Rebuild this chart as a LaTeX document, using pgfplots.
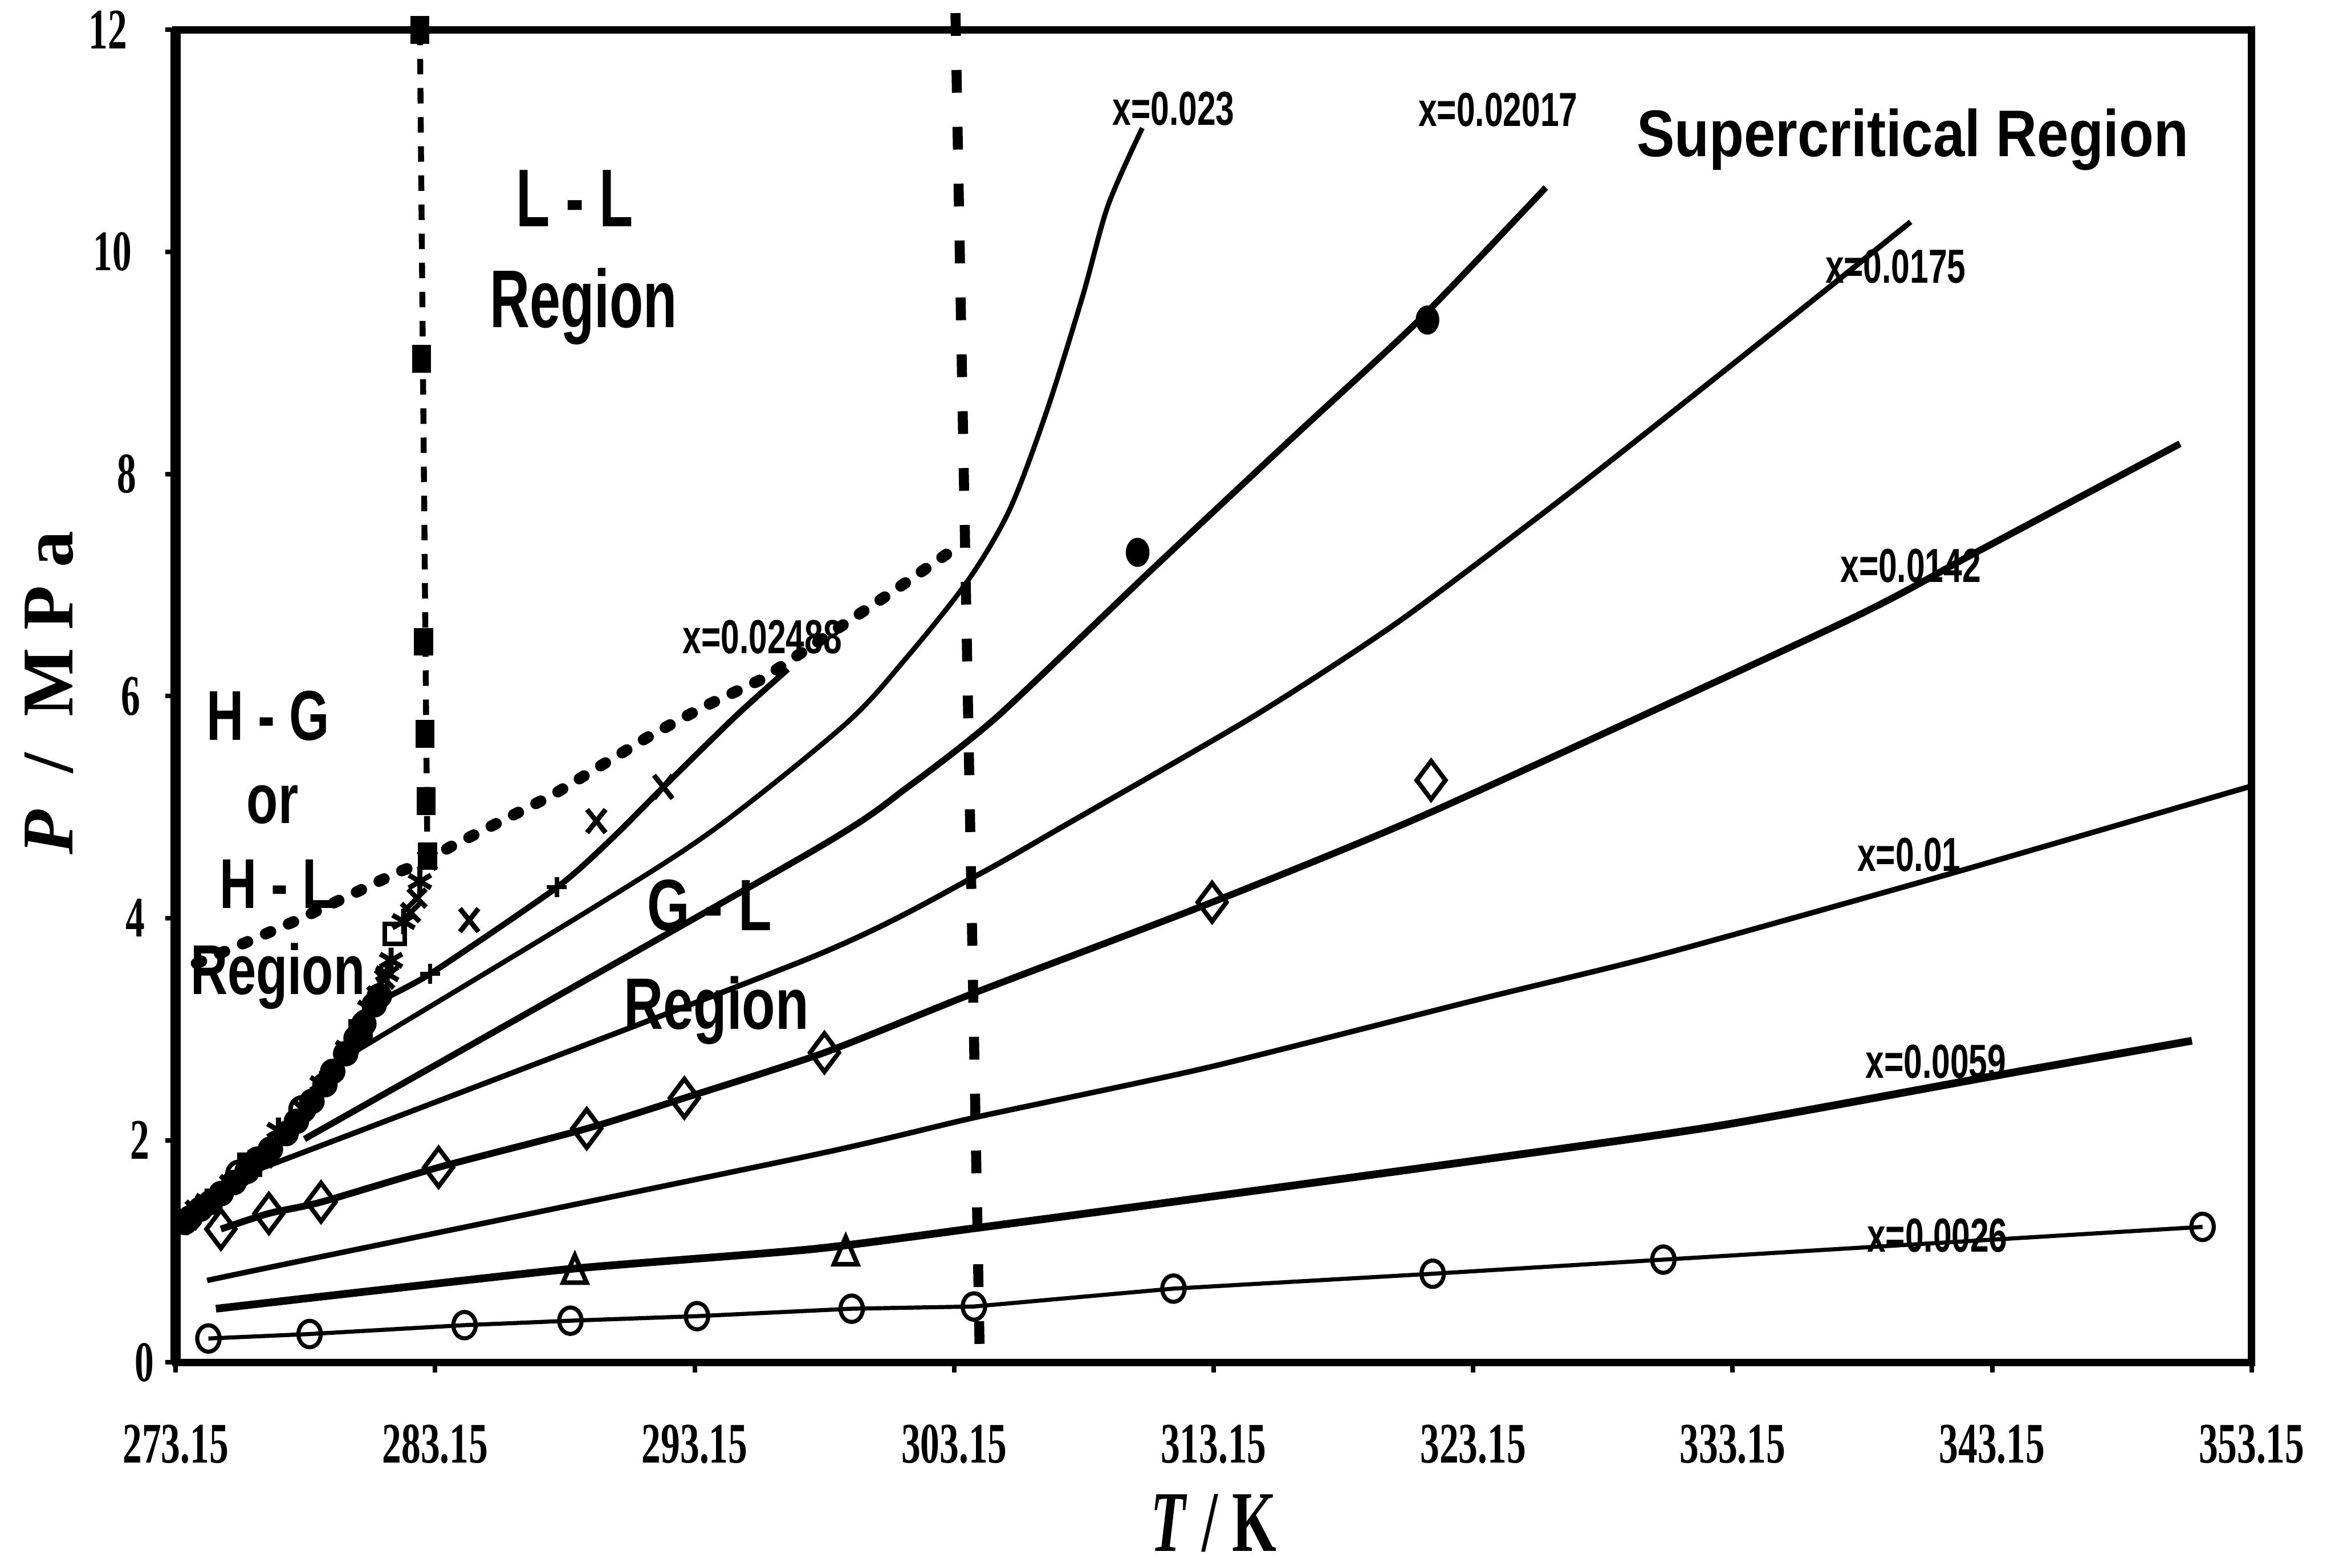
\documentclass[border=0pt]{standalone}
\usepackage{fontspec}
\setmainfont{Liberation Serif}
\setsansfont{Liberation Sans}
\usepackage{graphicx}
\usepackage{pgfplots}
\pgfplotsset{compat=1.18}

\newcommand{\tl}[1]{\scalebox{0.67}[1]{\fontsize{12.6pt}{13pt}\selectfont\bfseries #1}}
\newcommand{\lbl}[1]{\scalebox{0.7}[1]{\sffamily\fontsize{10.5pt}{11pt}\selectfont\bfseries #1}}
\newcommand{\rg}[3]{\scalebox{#1}[1]{\sffamily\fontsize{#2}{#2}\selectfont\bfseries #3}}

\begin{document}
\begin{tikzpicture}
\begin{axis}[
  at={(0,0)}, anchor=south west, scale only axis,
  width=16.031cm, height=10.2925cm,
  xmin=273.15, xmax=353.15, ymin=0, ymax=12,
  xtick={273.15,283.15,293.15,303.15,313.15,323.15,333.15,343.15,353.15},
  ytick={0,2,4,6,8,10,12},
  xticklabel=\empty, yticklabel=\empty,
  tick align=outside, xtick pos=bottom, ytick pos=left,
  major tick length=0.08cm,
  every tick/.style={black, line width=1pt},
  axis line style={black, line width=1.6pt},
  clip=false,
]

% ---------- isopleth lines ----------
% x = 0.0026 (circles)
\addplot[black, line width=0.9pt, mark=o, mark size=2.9pt, mark options={xscale=0.85, line width=0.9pt}]
 coordinates {(274.41,0.215)(278.31,0.255)(284.28,0.335)(288.36,0.375)(293.24,0.416)(299.20,0.483)(303.91,0.503)(311.60,0.664)(321.59,0.798)(330.48,0.925)(351.26,1.220)};

% x = 0.0059
\addplot[black, line width=1.7pt, no marks, smooth, tension=0.4]
 coordinates {(274.70,0.483)(280.73,0.644)(288.53,0.845)(297.65,1.019)(303.91,1.207)(310.80,1.421)(323.42,1.823)(332.66,2.132)(343.74,2.601)(350.85,2.896)};
\addplot[black, only marks, mark=triangle, mark size=4pt, mark options={xscale=0.75, line width=1pt}]
 coordinates {(288.53,0.80)(298.97,0.965)};

% x = 0.01
\addplot[black, line width=1.2pt, no marks, smooth, tension=0.4]
 coordinates {(274.36,0.737)(276.82,0.858)(297.65,1.864)(304.08,2.212)(312.92,2.655)(323.42,3.272)(330.42,3.674)(341.50,4.398)(353.15,5.19)};

% x = 0.0142 (diamonds)
\addplot[black, line width=1.5pt, no marks, smooth, tension=0.4]
 coordinates {(274.89,1.20)(276.74,1.341)(278.75,1.443)(283.28,1.756)(288.99,2.105)(292.75,2.380)(298.15,2.789)(303.91,3.325)(313.09,4.143)(321.59,4.961)(337.54,6.677)(342.42,7.280)(350.39,8.272)};
\addplot[black, only marks, mark=diamond, mark size=4.2pt, mark options={line width=1pt, fill=white}]
 coordinates {(274.89,1.20)(276.74,1.341)(278.75,1.443)(283.28,1.756)(288.99,2.105)(292.75,2.380)(298.15,2.789)(313.09,4.143)(321.53,5.242)};

% x = 0.0175
\addplot[black, line width=1.2pt, no marks, smooth, tension=0.4]
 coordinates {(276.25,1.730)(297.65,3.647)(303.91,4.371)(307.35,4.827)(314.70,5.819)(320.32,6.677)(327.09,7.870)(335.07,9.345)(340.01,10.270)};

% x = 0.02017 (filled circles)
\addplot[black, line width=1.4pt, no marks, smooth, tension=0.4]
 coordinates {(278.11,2.011)(297.65,4.599)(301.33,5.175)(304.83,5.819)(310.74,7.133)(316.13,8.313)(321.07,9.386)(325.95,10.579)};
\addplot[black, only marks, mark=*, mark size=3pt, mark options={xscale=0.8}]
 coordinates {(310.22,7.294)(321.39,9.386)};

% x = 0.023
\addplot[black, line width=1.1pt, no marks, smooth, tension=0.5]
 coordinates {(280.09,2.802)(289.30,4.103)(293.98,4.813)(298.97,5.75)(301.33,6.35)(303.68,7.04)(305.29,7.68)(306.72,8.568)(308.10,9.600)(309.08,10.418)(310.40,11.115)};

% x = 0.02488
\addplot[black, line width=1.3pt, no marks, smooth, tension=0.4]
 coordinates {(280.90,3.245)(282.96,3.499)(287.84,4.277)(289.91,4.706)(291.92,5.175)(294.73,5.819)(296.74,6.241)};
\addplot[black, only marks, mark=x, mark size=3.6pt, mark options={xscale=0.8, line width=1.1pt}]
 coordinates {(284.46,3.982)(289.36,4.874)(291.94,5.182)};
\addplot[black, only marks, mark=+, mark size=2.2pt, mark options={line width=0.9pt}]
 coordinates {(282.96,3.499)(287.84,4.277)};

% ---------- phase boundaries ----------
\addplot[black, line width=2.5pt, line cap=round, dash pattern=on 1.2pt off 4.3pt, no marks]
 coordinates {(273.95,3.593)(275.90,3.786)(277.86,3.985)(279.83,4.203)(281.72,4.414)(282.85,4.518)(283.71,4.639)(287.67,5.108)(291.49,5.651)(293.52,5.906)(295.76,6.154)(300.81,6.945)(303.45,7.374)};

\addplot[black, line width=1.3pt, dash pattern=on 3.4pt off 3pt, no marks]
 coordinates {(282.56,12)(282.85,4.52)};
\addplot[black, only marks, mark=square*, mark size=1.9pt, mark options={yscale=1.5}]
 coordinates {(282.56,12)(282.62,9.037)(282.70,6.489)(282.76,5.658)(282.80,5.055)(282.85,4.559)};

\addplot[black, line width=2.2pt, dash pattern=on 5pt off 7.5pt, no marks]
 coordinates {(303.20,12.15)(304.14,0)};

% ---------- hydrate equilibrium data ----------
\addplot[black, only marks, mark=*, mark size=2.6pt]
 coordinates {(273.50,1.26)(273.70,1.30)(274.10,1.38)(274.50,1.44)(274.90,1.52)(275.40,1.62)(275.90,1.72)(276.30,1.83)(276.80,1.92)(277.40,2.06)(277.80,2.17)(278.40,2.35)(278.90,2.50)(279.20,2.62)(279.70,2.78)(280.10,2.92)(280.40,3.05)(280.80,3.22)(281.00,3.30)};
\addplot[black, only marks, mark=asterisk, mark size=2.8pt, mark options={line width=1.1pt}]
 coordinates {(273.55,1.26)(274.36,1.45)(276.02,1.80)(277.11,2.09)(278.77,2.51)(279.75,2.83)(280.61,3.19)(281.30,3.50)(281.45,3.62)(281.93,3.97)(282.56,4.33)};
\addplot[black, only marks, mark=x, mark size=2.8pt, mark options={line width=1.1pt}]
 coordinates {(273.90,1.37)(275.22,1.60)(276.54,1.84)(278.03,2.28)(280.21,2.98)(280.90,3.30)(281.20,3.45)(282.20,4.05)(282.45,4.18)(282.85,4.52)};
\addplot[black, only marks, mark=square, mark size=2.2pt, mark options={line width=1pt, fill=white}]
 coordinates {(276.00,1.78)(280.27,2.98)(281.59,3.86)};
\addplot[black, only marks, mark=o, mark size=2.6pt, mark options={line width=1pt, fill=white}]
 coordinates {(278.03,2.28)(275.60,1.70)};

% ---------- tick labels ----------
\foreach \t in {273.15,283.15,293.15,303.15,313.15,323.15,333.15,343.15,353.15}{
  \edef\tmp{\noexpand\node[inner sep=0pt, anchor=center] at (axis cs:\t,-0.737) {\noexpand\tl{\t}};}
  \tmp
}
\node[inner sep=0pt, anchor=east] at (axis cs:272.347,0) {\tl{0}};
\node[inner sep=0pt, anchor=east] at (axis cs:272.174,2) {\tl{2}};
\node[inner sep=0pt, anchor=east] at (axis cs:272.002,4) {\tl{4}};
\node[inner sep=0pt, anchor=east] at (axis cs:271.830,6) {\tl{6}};
\node[inner sep=0pt, anchor=east] at (axis cs:271.658,8) {\tl{8}};
\node[inner sep=0pt, anchor=east] at (axis cs:271.486,10) {\tl{10}};
\node[inner sep=0pt, anchor=east] at (axis cs:271.314,12) {\tl{12}};

% ---------- axis titles ----------
\node[inner sep=0pt, anchor=base] at (axis cs:313.15,-1.700)
  {\scalebox{0.66}[1]{\fontsize{19pt}{20pt}\selectfont\bfseries\textit{T} / K}};
\node[inner sep=0pt, anchor=center, rotate=90] at (axis cs:268.27,6.03)
  {\fontsize{16pt}{17pt}\selectfont\bfseries\textit{P} \ / \ M P a};

% ---------- line labels ----------
\node[inner sep=0pt] at (axis cs:311.60,11.29) {\lbl{x=0.023}};
\node[inner sep=0pt] at (axis cs:324.11,11.28) {\lbl{x=0.02017}};
\node[inner sep=0pt] at (axis cs:339.43,9.868) {\lbl{x=0.0175}};
\node[inner sep=0pt] at (axis cs:340.01,7.173) {\lbl{x=0.0142}};
\node[inner sep=0pt] at (axis cs:339.95,4.572) {\lbl{x=0.01}};
\node[inner sep=0pt] at (axis cs:340.98,2.708) {\lbl{x=0.0059}};
\node[inner sep=0pt] at (axis cs:341.04,1.140) {\lbl{x=0.0026}};
\node[inner sep=0pt] at (axis cs:295.76,6.530) {\lbl{x=0.02488}};

% ---------- region labels ----------
\node[inner sep=0pt, anchor=base] at (axis cs:288.53,10.230) {\rg{0.675}{18pt}{L - L}};
\node[inner sep=0pt, anchor=base] at (axis cs:288.87,9.319) {\rg{0.675}{18pt}{Region}};
\node[inner sep=0pt, anchor=base] at (axis cs:276.71,5.604) {\rg{0.73}{15.5pt}{H - G}};
\node[inner sep=0pt, anchor=base] at (axis cs:276.88,4.854) {\rg{0.73}{15.5pt}{or}};
\node[inner sep=0pt, anchor=base] at (axis cs:277.05,4.089) {\rg{0.73}{15.5pt}{H - L}};
\node[inner sep=0pt, anchor=base] at (axis cs:277.08,3.312) {\rg{0.73}{15.5pt}{Region}};
\node[inner sep=0pt, anchor=base] at (axis cs:293.72,3.888) {\rg{0.75}{16pt}{G - L}};
\node[inner sep=0pt, anchor=base] at (axis cs:293.98,3.003) {\rg{0.75}{16pt}{Region}};
\node[inner sep=0pt, anchor=base] at (axis cs:340.09,10.860) {\rg{0.86}{14.5pt}{Supercritical Region}};

% thicker left spine
\draw[black, line width=2.2pt] (rel axis cs:0,0) -- (rel axis cs:0,1);
\end{axis}
\pgfresetboundingbox
\path[use as bounding box] (-1.357cm,-1.587cm) rectangle (16.675cm,10.5225cm);
\end{tikzpicture}
\end{document}
